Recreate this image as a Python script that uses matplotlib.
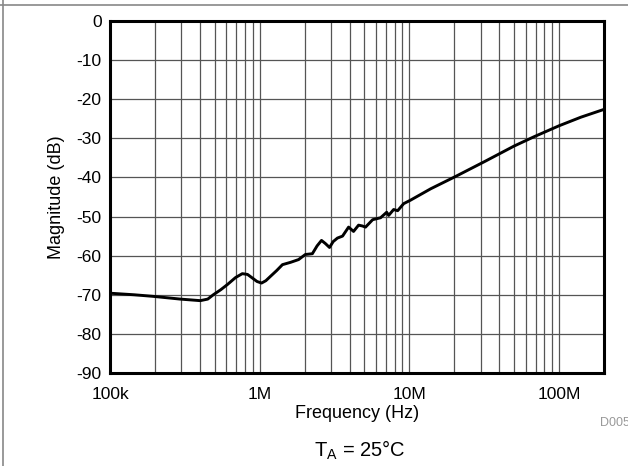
import matplotlib
matplotlib.use("Agg")
import matplotlib.pyplot as plt
from matplotlib.ticker import FixedLocator, NullFormatter
from matplotlib.lines import Line2D

plt.rcParams['font.family'] = ['Liberation Sans', 'DejaVu Sans']

freq_hz = [1.0e5, 1.45e5, 1.94e5, 2.94e5, 4.01e5, 4.5e5, 4.9e5, 5.5e5, 6.08e5, 6.9e5,
           7.66e5, 8.3e5, 8.93e5, 9.6e5, 1.03e6, 1.1e6, 1.18e6, 1.3e6, 1.42e6, 1.61e6,
           1.82e6, 2.02e6, 2.25e6, 2.42e6, 2.59e6, 2.75e6, 2.93e6, 3.1e6, 3.31e6, 3.58e6,
           3.93e6, 4.24e6, 4.58e6, 4.85e6, 5.10e6, 5.69e6, 6.43e6, 7.06e6, 7.28e6, 7.86e6,
           8.36e6, 9.17e6, 1.02e7, 1.39e7, 2.05e7, 3.2e7, 5.0e7, 6.81e7, 1.0e8, 1.4e8, 2.0e8]
mag_db = [-69.6, -70.0, -70.4, -71.1, -71.5, -71.1, -70.0, -68.7, -67.4, -65.6,
          -64.6, -64.8, -65.7, -66.6, -67.0, -66.4, -65.3, -63.8, -62.3, -61.7,
          -61.0, -59.7, -59.5, -57.5, -56.1, -56.9, -57.9, -56.4, -55.5, -55.0,
          -52.7, -53.8, -52.2, -52.4, -52.7, -50.8, -50.3, -48.9, -49.7, -48.2,
          -48.5, -46.7, -45.8, -42.9, -39.7, -35.9, -32.0, -29.6, -26.8, -24.6, -22.6]

x_major = [1e5, 1e6, 1e7, 1e8]
x_labels = ["100k", "1M", "10M", "100M"]
y_ticks = [0, -10, -20, -30, -40, -50, -60, -70, -80, -90]

fig = plt.figure(figsize=(6.28, 4.66), dpi=100)
ax = fig.add_axes([110/628, 1 - 373/466, (604 - 110)/628, (373 - 21)/466])

ax.plot(freq_hz, mag_db, color='black', lw=2.1, solid_joinstyle='round',
        solid_capstyle='butt', zorder=3)

ax.set_xscale('log')
ax.set_xlim(1e5, 2e8)
ax.set_ylim(-90, 0)
ax.xaxis.set_major_locator(FixedLocator(x_major))
ax.set_xticklabels(x_labels)
minors = [m * 10**e for e in range(5, 9) for m in range(2, 10) if m * 10**e < 2e8]
ax.xaxis.set_minor_locator(FixedLocator(minors))
ax.xaxis.set_minor_formatter(NullFormatter())
ax.set_yticks(y_ticks)
ax.set_yticklabels([str(v) for v in y_ticks])

ax.grid(True, which='both', axis='x', color='#555555', lw=0.9)
ax.grid(True, which='major', axis='y', color='#555555', lw=0.9)
ax.tick_params(which='both', length=0, labelsize=12.5, colors='black')
ax.tick_params(axis='y', pad=6)
ax.tick_params(axis='x', pad=10)
for s in ax.spines.values():
    s.set_linewidth(2.2)
    s.set_color('black')

ax.set_xlabel("Frequency (Hz)", fontsize=13, labelpad=2)
ax.set_ylabel("Magnitude (dB)", fontsize=13, labelpad=8)

fig.text(600/628, 1 - 423/466, "D005", fontsize=9, color='#999999', va='center', ha='left')
fig.text(360/628, 1 - 450/466, r"T$_\mathregular{A}$ = 25°C", fontsize=14.5, ha='center', va='center')

fig.add_artist(Line2D([3/628, 3/628], [0, 1], transform=fig.transFigure, color='#888888', lw=1.2))
fig.add_artist(Line2D([0, 1], [1 - 4.5/466, 1 - 4.5/466], transform=fig.transFigure, color='#888888', lw=1.2))

fig.savefig("out.png", dpi=100)
